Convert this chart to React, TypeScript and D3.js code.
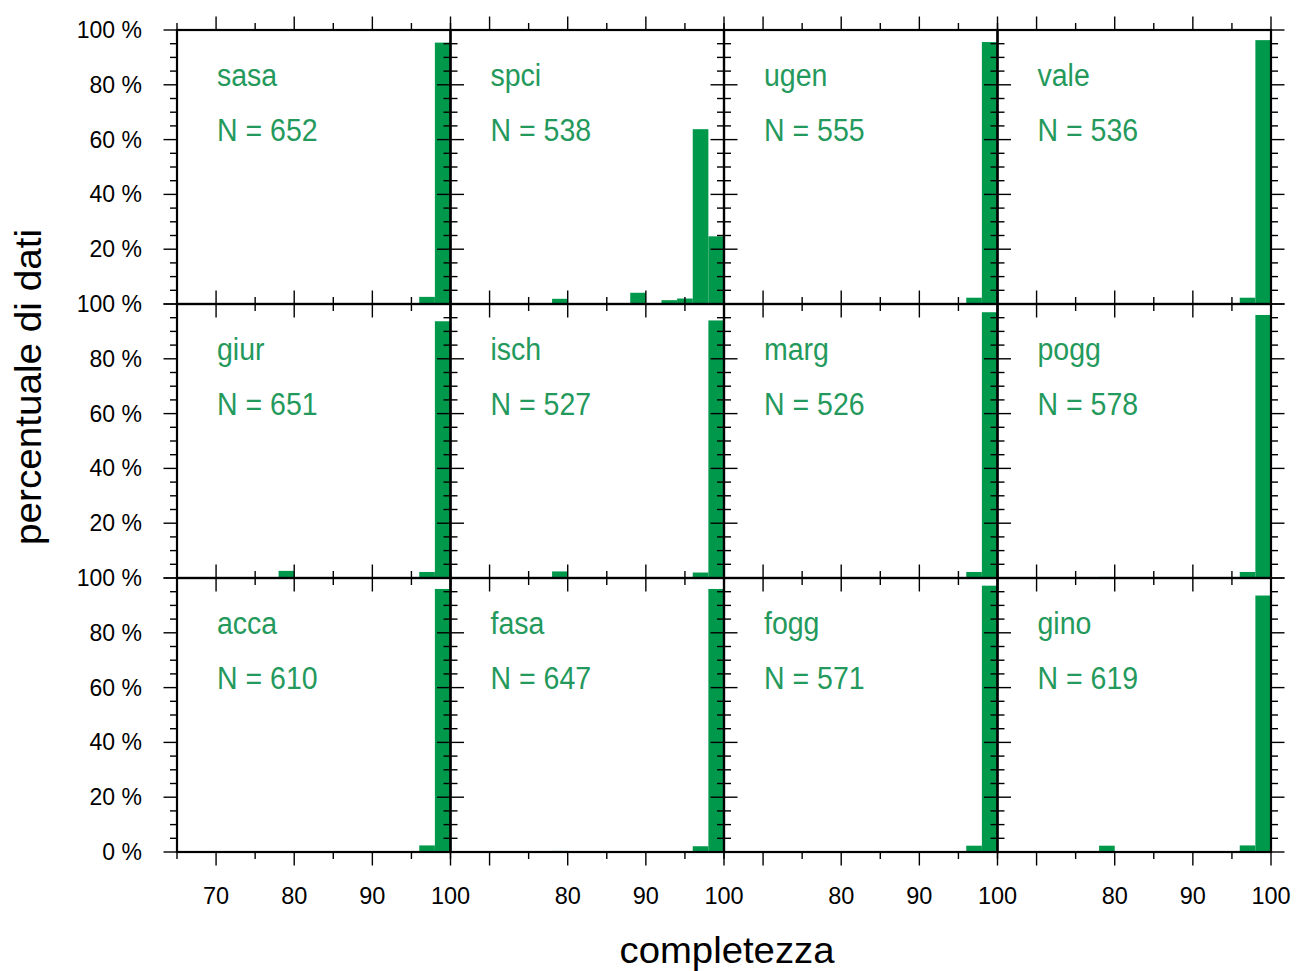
import React from "react";
import * as d3 from "d3";

// ---- data ----
const stations = ["sasa", "spci", "ugen", "vale", "giur", "isch", "marg", "pogg", "acca", "fasa", "fogg", "gino"];
const counts = [652, 538, 555, 536, 651, 527, 526, 578, 610, 647, 571, 619];
// lower edges of the 2-unit completeness bins that hold data
const binStarts = [78, 88, 92, 94, 96, 98];
const pct_sasa = [0, 0, 0, 0, 2.6, 95.4];
const pct_spci = [1.9, 4.1, 1.4, 2.0, 63.8, 24.7];
const pct_ugen = [0.3, 0, 0, 0, 2.3, 95.6];
const pct_vale = [0, 0, 0, 0, 2.3, 96.3];
const pct_giur = [2.6, 0, 0, 0, 2.2, 93.7];
const pct_isch = [2.4, 0, 0, 0, 2.0, 94.0];
const pct_marg = [0, 0, 0, 0, 2.2, 97.0];
const pct_pogg = [0.4, 0, 0, 0, 2.2, 96.0];
const pct_acca = [0.2, 0, 0, 0, 2.4, 96.0];
const pct_fasa = [0.4, 0, 0, 0, 2.1, 96.0];
const pct_fogg = [0, 0, 0, 0, 2.3, 97.2];
const pct_gino = [2.3, 0, 0, 0, 2.4, 93.6];
const percents = [pct_sasa, pct_spci, pct_ugen, pct_vale, pct_giur, pct_isch, pct_marg, pct_pogg, pct_acca, pct_fasa, pct_fogg, pct_gino];
const binWidth = 2;

const xDomain = [65, 100];
const xMajorTicks = [70, 80, 90, 100];
const xMinorTicks = [65, 75, 85, 95];
const xLabelsFirst = [70, 80, 90, 100];
const xLabelsOther = [80, 90, 100];
const yMajorTicks = [0, 20, 40, 60, 80, 100];
const yMinorTicks = d3.range(0, 101, 5).filter((v) => v % 20 !== 0);

const xTitle = "completezza";
const yTitle = "percentuale di dati";

// ---- layout ----
const W = 1300;
const H = 971;
const left = 177;
const right = 1271;
const top = 30;
const bottom = 852;
const nCols = 4;
const nRows = 3;
const colW = (right - left) / nCols;
const rowH = (bottom - top) / nRows;
const MAJ = 13.5;
const MIN = 7;
const BAR = "#00994c";
const TXT = "#24995c";
const FONT = "'Liberation Sans', Arial, Helvetica, sans-serif";

function Panel({ idx }: { idx: number }) {
  const col = idx % nCols;
  const row = Math.floor(idx / nCols);
  const x0 = left + col * colW;
  const y0 = top + row * rowH;
  const x = d3.scaleLinear().domain(xDomain).range([x0, x0 + colW]);
  const y = d3.scaleLinear().domain([0, 100]).range([y0 + rowH, y0]);
  const vals = percents[idx];
  return (
    <g>
      {binStarts.map((b, i) =>
        vals[i] > 0 ? (
          <rect
            key={i}
            x={x(b)}
            y={y(vals[i])}
            width={x(b + binWidth) - x(b)}
            height={y(0) - y(vals[i])}
            fill={BAR}
          />
        ) : null
      )}
      <g transform={`translate(${x0 + 40},0) scale(0.92,1)`} fill={TXT} fontFamily={FONT} fontSize={31}>
        <text x={0} y={y0 + 56}>{stations[idx]}</text>
        <text x={0} y={y0 + 111.5}>{`N = ${counts[idx]}`}</text>
      </g>
    </g>
  );
}

function Axes({ idx }: { idx: number }) {
  const col = idx % nCols;
  const row = Math.floor(idx / nCols);
  const x0 = left + col * colW;
  const y0 = top + row * rowH;
  const x = d3.scaleLinear().domain(xDomain).range([x0, x0 + colW]);
  const y = d3.scaleLinear().domain([0, 100]).range([y0 + rowH, y0]);
  const xl = x0;
  const xr = x0 + colW;
  const yb = y0 + rowH;
  const yt = y0;
  const lines: JSX.Element[] = [];
  const push = (k: string, a: number, b: number, c: number, d: number) =>
    lines.push(<line key={k} x1={a} y1={b} x2={c} y2={d} stroke="#000" strokeWidth={1.4} />);
  xMajorTicks.forEach((t) => {
    push(`xb${t}`, x(t), yb, x(t), yb + MAJ);
    push(`xt${t}`, x(t), yt, x(t), yt - MAJ);
  });
  xMinorTicks.forEach((t) => {
    push(`xbm${t}`, x(t), yb, x(t), yb + MIN);
    push(`xtm${t}`, x(t), yt, x(t), yt - MIN);
  });
  yMajorTicks.forEach((t) => {
    push(`yl${t}`, xl, y(t), xl - MAJ, y(t));
    push(`yr${t}`, xr, y(t), xr + MAJ, y(t));
  });
  yMinorTicks.forEach((t) => {
    push(`ylm${t}`, xl, y(t), xl - MIN, y(t));
    push(`yrm${t}`, xr, y(t), xr + MIN, y(t));
  });
  return (
    <g>
      {lines}
      <rect x={xl} y={yt} width={colW} height={rowH} fill="none" stroke="#000" strokeWidth={2.2} />
    </g>
  );
}

export default function App() {
  const rowsIdx = d3.range(nRows);
  const colsIdx = d3.range(nCols);
  return (
    <svg
      width={W}
      height={H}
      style={{ position: "absolute", left: 0, top: 0, background: "#fff" }}
      fontFamily={FONT}
    >
      <rect x={0} y={0} width={W} height={H} fill="#fff" />
      {stations.map((s, i) => (
        <Panel key={s} idx={i} />
      ))}
      {stations.map((s, i) => (
        <Axes key={`a${s}`} idx={i} />
      ))}
      {/* y tick labels */}
      {rowsIdx.map((r) => {
        const y = d3.scaleLinear().domain([0, 100]).range([top + (r + 1) * rowH, top + r * rowH]);
        const labs = r === nRows - 1 ? yMajorTicks : yMajorTicks.filter((v) => v > 0);
        return labs.map((v) => (
          <text key={`yl${r}-${v}`} x={142} y={y(v) + 8} textAnchor="end" fontSize={23} fill="#000">
            {`${v} %`}
          </text>
        ));
      })}
      {/* x tick labels */}
      {colsIdx.map((c) => {
        const x = d3.scaleLinear().domain(xDomain).range([left + c * colW, left + (c + 1) * colW]);
        const labs = c === 0 ? xLabelsFirst : xLabelsOther;
        return labs.map((v) => (
          <text key={`xl${c}-${v}`} x={x(v)} y={904} textAnchor="middle" fontSize={23.5} fill="#000">
            {v}
          </text>
        ));
      })}
      <text
        x={(left + right) / 2 + 3}
        y={963}
        textAnchor="middle"
        fontSize={37}
        fill="#000"
        textLength={215}
        lengthAdjust="spacingAndGlyphs"
      >
        {xTitle}
      </text>
      <text
        transform={`translate(41,387) rotate(-90)`}
        textAnchor="middle"
        fontSize={37}
        fill="#000"
        textLength={316}
        lengthAdjust="spacingAndGlyphs"
      >
        {yTitle}
      </text>
    </svg>
  );
}
